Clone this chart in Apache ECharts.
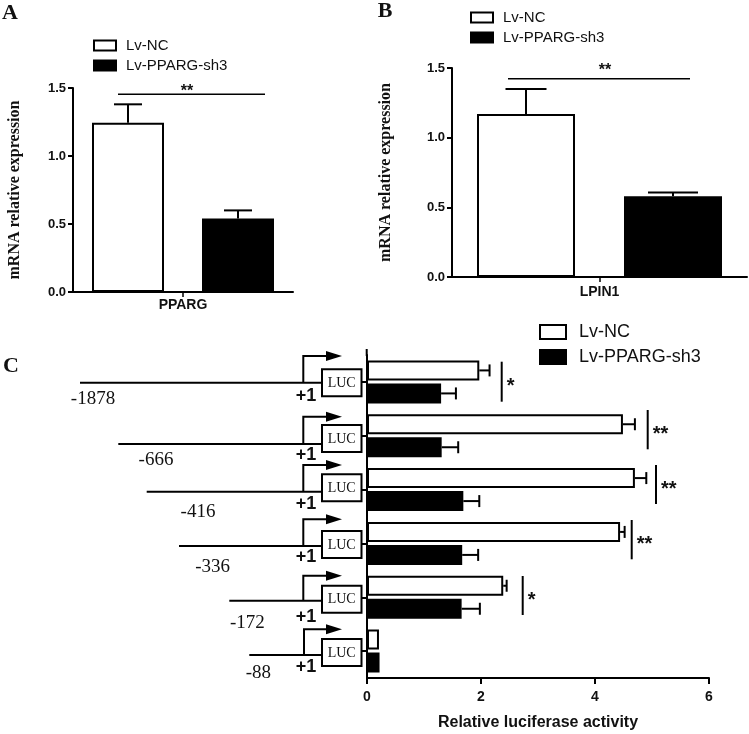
<!DOCTYPE html>
<html><head><meta charset="utf-8">
<script src="https://cdn.jsdelivr.net/npm/echarts@6/dist/echarts.min.js"></script>
<style>html,body{margin:0;padding:0;background:#fff}#c{width:749px;height:734px}</style>
</head><body><div id="c"></div>
<script>
// ---------- data ----------
const seriesNames = ['Lv-NC', 'Lv-PPARG-sh3'];
const catA = ['PPARG'];
const ncA = [1.245];   const ncAErr = [0.135];
const shA = [0.54];    const shAErr = [0.06];
const catB = ['LPIN1'];
const ncB = [1.17];    const ncBErr = [0.18];
const shB = [0.58];    const shBErr = [0.027];
const catC = ['-1878', '-666', '-416', '-336', '-172', '-88'];
const ncC = [1.97, 4.49, 4.70, 4.44, 2.39, 0.21];
const ncCErr = [0.18, 0.21, 0.20, 0.08, 0.06, 0];
const shC = [1.30, 1.31, 1.69, 1.67, 1.66, 0.22];
const shCErr = [0.26, 0.29, 0.28, 0.28, 0.32, 0];
const yTicksAB = [0, 0.5, 1.0, 1.5];
const xTicksC = [0, 2, 4, 6];
const sigA = ['**'];
const sigB = ['**'];
const sigC = ['*', '**', '**', '**', '*'];

// ---------- styles ----------
const SANS = 'Liberation Sans, Arial, sans-serif';
const SERIF = 'Liberation Serif, Times New Roman, serif';
const INK = '#111';
const whiteStyle = {color: '#fff', borderColor: '#000', borderWidth: 2};
const blackStyle = {color: '#000', borderColor: '#000', borderWidth: 2};

const chart = echarts.init(document.getElementById('c'), null, {renderer: 'canvas'});

function errV(offset, capW) {
  return function (params, api) {
    const c = api.value(0), v = api.value(1), e = api.value(2);
    if (!e) return;
    const p0 = api.coord([c, v]); const p1 = api.coord([c, v + e]);
    const x = p0[0] + offset;
    return {type: 'group', children: [
      {type: 'line', shape: {x1: x, y1: p0[1], x2: x, y2: p1[1]}, style: {stroke: '#000', lineWidth: 2}},
      {type: 'line', shape: {x1: x - capW / 2, y1: p1[1], x2: x + capW / 2, y2: p1[1]}, style: {stroke: '#000', lineWidth: 2}}
    ]};
  };
}
function errH(offset, capH) {
  return function (params, api) {
    const v = api.value(0), c = api.value(1), e = api.value(2);
    if (!e) return;
    const p0 = api.coord([v, c]); const p1 = api.coord([v + e, c]);
    const y = p0[1] + offset;
    return {type: 'group', children: [
      {type: 'line', shape: {x1: p0[0], y1: y, x2: p1[0], y2: y}, style: {stroke: '#000', lineWidth: 2}},
      {type: 'line', shape: {x1: p1[0], y1: y - capH / 2, x2: p1[0], y2: y + capH / 2}, style: {stroke: '#000', lineWidth: 2}}
    ]};
  };
}

const axisLine = {show: true, lineStyle: {color: '#000', width: 2}};
const axisTick = {show: true, length: 5, lineStyle: {color: '#000', width: 2}};

function valueAxisAB(gridIndex, nameGap) {
  return {
    type: 'value', gridIndex, min: yTicksAB[0], max: yTicksAB[yTicksAB.length - 1], interval: yTicksAB[1] - yTicksAB[0],
    splitLine: {show: false}, axisLine, axisTick,
    axisLabel: {color: INK, fontFamily: SANS, fontWeight: 'bold', fontSize: 13, margin: 7, formatter: v => v.toFixed(1)},
    name: 'mRNA relative expression', nameLocation: 'middle', nameGap,
    nameTextStyle: {color: INK, fontFamily: SERIF, fontWeight: 'bold', fontSize: 16}
  };
}
function catAxisAB(gridIndex, data, margin) {
  return {
    type: 'category', gridIndex, data, axisLine,
    axisTick: {show: true, alignWithLabel: true, length: 5, lineStyle: {color: '#000', width: 1.5}},
    axisLabel: {color: INK, fontFamily: SANS, fontWeight: 'bold', fontSize: 14, margin}
  };
}
function legendAt(left, top, w, h, gap, fs, pad) {
  return {
    orient: 'vertical', left, top, padding: 0, itemWidth: w, itemHeight: h, itemGap: gap, icon: 'rect',
    textStyle: {color: INK, fontFamily: SANS, fontSize: fs, padding: [0, 0, 0, pad]},
    data: [{name: seriesNames[0], itemStyle: whiteStyle}, {name: seriesNames[1], itemStyle: blackStyle}]
  };
}

// bar geometry
const bwA = 72, gapA = 38, bwB = 98, gapB = 49, bwC = 20, gapC = 3;

// ---------- annotations (schematic, pixels) ----------
const g = [];
function txt(x, y, s, font, align) {
  g.push({type: 'text', x, y, style: {text: s, font, fill: INK, align: align || 'center', verticalAlign: 'middle'}});
}
function ln(x1, y1, x2, y2, w) {
  g.push({type: 'line', shape: {x1, y1, x2, y2}, style: {stroke: '#000', lineWidth: w || 1.5}});
}
txt(10, 13, 'A', 'bold 22px ' + SERIF);
txt(385, 11, 'B', 'bold 22px ' + SERIF);
txt(11, 366, 'C', 'bold 22px ' + SERIF);
// significance A/B
ln(118, 94.3, 265, 94.3, 1.5); txt(187, 91.5, sigA[0], 'bold 16px ' + SANS);
ln(508, 78.7, 690, 78.7, 1.5); txt(605, 70.5, sigB[0], 'bold 16px ' + SANS);
// significance C
const sigCx = [501.7, 647.7, 656, 631.7, 522.7];
const sigCy = [[361.7, 401.7], [410, 449.3], [465, 504], [520, 559.3], [576, 615]];
sigC.forEach((s, i) => {
  ln(sigCx[i], sigCy[i][0], sigCx[i], sigCy[i][1], 2);
  txt(sigCx[i] + 5, (sigCy[i][0] + sigCy[i][1]) / 2 + 5, s, 'bold 20px ' + SANS, 'left');
});
// C axis top extension
ln(366.7, 349, 366.7, 356, 2);
// promoter constructs
const lineY = [382.7, 444, 491.7, 546, 600.7, 655];
const startX = [80, 118.3, 146.7, 179, 229.3, 249.3];
const arrowY = [356, 416.7, 465, 519.3, 575.7, 629.3];
const boxTop = [369.3, 425, 474.3, 531, 585.7, 639];
const labX = [93, 156, 198, 212.7, 247.3, 258.3];
const labY = [399.3, 460, 511.7, 566.7, 623.3, 673.3];
const plusY = [396, 455, 504, 556.7, 616.7, 667.3];
catC.forEach((c, i) => {
  const vx = i === 5 ? 304 : 303.3;
  ln(startX[i], lineY[i], 322, lineY[i], 2);
  g.push({type: 'polyline', shape: {points: [[vx, lineY[i]], [vx, arrowY[i]], [328, arrowY[i]]]}, style: {stroke: '#000', lineWidth: 2, fill: null}});
  g.push({type: 'polygon', shape: {points: [[326, arrowY[i] - 5], [342, arrowY[i]], [326, arrowY[i] + 5]]}, style: {fill: '#000'}});
  g.push({type: 'rect', shape: {x: 322, y: boxTop[i], width: 39.5, height: 27}, style: {fill: '#fff', stroke: '#000', lineWidth: 2}});
  txt(341.7, boxTop[i] + 14, 'LUC', '14px ' + SERIF);
  txt(labX[i], labY[i], c, '19px ' + SERIF);
  txt(306, plusY[i], '+1', 'bold 18px ' + SANS);
});

const option = {
  backgroundColor: '#fff',
  animation: false,
  textStyle: {fontFamily: SANS},
  legend: [
    legendAt(93, 38, 22, 10, 5, 15, 5),
    legendAt(470, 10, 22, 10, 5, 15, 5),
    legendAt(539, 323, 26, 14, 7, 18, 8)
  ],
  grid: [
    {left: 73, top: 88, width: 220, height: 204, containLabel: false, outerBoundsMode: 'none'},
    {left: 452, top: 68, width: 295, height: 209, containLabel: false, outerBoundsMode: 'none'},
    {left: 367, top: 355, width: 342, height: 323, containLabel: false, outerBoundsMode: 'none'}
  ],
  xAxis: [
    catAxisAB(0, catA, 6),
    catAxisAB(1, catB, 8),
    {
      type: 'value', gridIndex: 2, min: xTicksC[0], max: xTicksC[xTicksC.length - 1], interval: xTicksC[1] - xTicksC[0],
      splitLine: {show: false}, axisLine, axisTick: {show: true, length: 6, lineStyle: {color: '#000', width: 2}},
      axisLabel: {color: INK, fontFamily: SANS, fontWeight: 'bold', fontSize: 14, margin: 12},
      name: 'Relative luciferase activity', nameLocation: 'middle', nameGap: 37,
      nameTextStyle: {color: INK, fontFamily: SANS, fontWeight: 'bold', fontSize: 16}
    }
  ],
  yAxis: [
    valueAxisAB(0, 50),
    valueAxisAB(1, 58),
    {
      type: 'category', gridIndex: 2, data: catC, inverse: true, axisLine,
      axisTick: {show: true, alignWithLabel: true, length: 5, lineStyle: {color: '#000', width: 2}},
      axisLabel: {show: false}
    }
  ],
  series: [
    {name: seriesNames[0], type: 'bar', xAxisIndex: 0, yAxisIndex: 0, data: ncA, barWidth: bwA, barGap: (gapA / bwA * 100) + '%', itemStyle: whiteStyle},
    {name: seriesNames[1], type: 'bar', xAxisIndex: 0, yAxisIndex: 0, data: shA, barWidth: bwA, itemStyle: blackStyle},
    {name: 'errA0', type: 'custom', xAxisIndex: 0, yAxisIndex: 0, z: 5, renderItem: errV(-(bwA + gapA) / 2, 28), data: ncA.map((v, i) => [i, v, ncAErr[i]])},
    {name: 'errA1', type: 'custom', xAxisIndex: 0, yAxisIndex: 0, z: 5, renderItem: errV((bwA + gapA) / 2, 28), data: shA.map((v, i) => [i, v, shAErr[i]])},

    {name: seriesNames[0], type: 'bar', xAxisIndex: 1, yAxisIndex: 1, data: ncB, barWidth: bwB, barGap: (gapB / bwB * 100) + '%', itemStyle: whiteStyle},
    {name: seriesNames[1], type: 'bar', xAxisIndex: 1, yAxisIndex: 1, data: shB, barWidth: bwB, itemStyle: blackStyle},
    {name: 'errB0', type: 'custom', xAxisIndex: 1, yAxisIndex: 1, z: 5, renderItem: errV(-(bwB + gapB) / 2, 41), data: ncB.map((v, i) => [i, v, ncBErr[i]])},
    {name: 'errB1', type: 'custom', xAxisIndex: 1, yAxisIndex: 1, z: 5, renderItem: errV((bwB + gapB) / 2, 50), data: shB.map((v, i) => [i, v, shBErr[i]])},

    {name: seriesNames[0], type: 'bar', xAxisIndex: 2, yAxisIndex: 2, data: ncC, barWidth: bwC, barGap: (gapC / bwC * 100) + '%', itemStyle: whiteStyle},
    {name: seriesNames[1], type: 'bar', xAxisIndex: 2, yAxisIndex: 2, data: shC, barWidth: bwC, itemStyle: blackStyle},
    {name: 'errC0', type: 'custom', xAxisIndex: 2, yAxisIndex: 2, z: 5, renderItem: errH(-(bwC + gapC) / 2, 12), encode: {x: 0, y: 1}, data: ncC.map((v, i) => [v, i, ncCErr[i]])},
    {name: 'errC1', type: 'custom', xAxisIndex: 2, yAxisIndex: 2, z: 5, renderItem: errH((bwC + gapC) / 2, 12), encode: {x: 0, y: 1}, data: shC.map((v, i) => [v, i, shCErr[i]])}
  ],
  graphic: g
};
chart.setOption(option);
</script>
</body></html>
